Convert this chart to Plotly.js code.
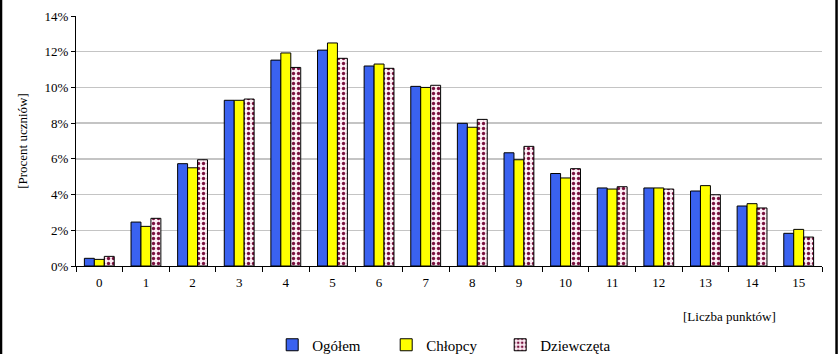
<!DOCTYPE html>
<html>
<head>
<meta charset="utf-8">
<script src="https://cdn.plot.ly/plotly-3.0.1.min.js"></script>
<style>html,body{margin:0;padding:0;background:#fff;}#chart{width:838px;height:354px;}</style>
</head>
<body>
<div id="chart"></div>
<script>
const categories = ["0","1","2","3","4","5","6","7","8","9","10","11","12","13","14","15"];
const ogolem     = [0.43, 2.46, 5.73, 9.28, 11.53, 12.09, 11.20, 10.06, 7.99, 6.34, 5.18, 4.37, 4.37, 4.20, 3.36, 1.83];
const chlopcy    = [0.37, 2.22, 5.50, 9.28, 11.93, 12.49, 11.31, 10.00, 7.77, 5.95, 4.93, 4.31, 4.37, 4.50, 3.49, 2.05];
const dziewczeta = [0.54, 2.67, 5.95, 9.35, 11.12, 11.63, 11.07, 10.12, 8.21, 6.70, 5.45, 4.44, 4.31, 3.99, 3.25, 1.62];
const yTickVals  = [0, 2, 4, 6, 8, 10, 12, 14];
const yTickText  = ["0%", "2%", "4%", "6%", "8%", "10%", "12%", "14%"];

const serif = "Liberation Serif";
const line = {color: "#000", width: 1};

const traces = [
  {type: "bar", name: "Ogółem", x: categories, y: ogolem,
   marker: {color: "#3a62f0", line: line}},
  {type: "bar", name: "Chłopcy", x: categories, y: chlopcy,
   marker: {color: "#ffff00", line: line}},
  {type: "bar", name: "Dziewczęta", x: categories, y: dziewczeta,
   marker: {color: "#ffffff", line: line,
            pattern: {shape: ".", fgcolor: "#7a1240", bgcolor: "#fdeef5", size: 5, solidity: 0.35}}}
];

const layout = {
  width: 838, height: 354,
  margin: {l: 76, r: 16, t: 16, b: 88, autoexpand: false},
  paper_bgcolor: "#fff", plot_bgcolor: "#fff",
  font: {family: serif, color: "#000", size: 13},
  barmode: "group", bargap: 0.36, bargroupgap: 0,
  showlegend: true,
  hovermode: false,
  xaxis: {
    type: "category", tickson: "boundaries",
    showline: true, linecolor: "#000", linewidth: 1,
    ticks: "outside", ticklen: 5, tickcolor: "#000",
    showgrid: false, zeroline: false,
    tickfont: {family: serif, size: 13}, ticklabelstandoff: 4
  },
  yaxis: {
    range: [0, 14], tickvals: yTickVals, ticktext: yTickText,
    showline: true, linecolor: "#000", linewidth: 1,
    ticks: "outside", ticklen: 4, tickcolor: "#000",
    showgrid: true, gridcolor: "#c4c4c4", gridwidth: 1.5, zeroline: false,
    tickfont: {family: serif, size: 13},
    title: {text: "[Procent uczniów]", font: {family: serif, size: 13}, standoff: 14}
  },
  legend: {
    orientation: "h", x: 0.263, xanchor: "left", y: -0.316, yanchor: "middle",
    font: {family: serif, size: 15, color: "#000"}, entrywidth: 69, entrywidthmode: "pixels",
    itemwidth: 30, traceorder: "normal", bgcolor: "rgba(0,0,0,0)"
  },
  annotations: [
    {xref: "paper", yref: "paper", x: 0.8755, y: -0.2, xanchor: "center", yanchor: "middle",
     text: "[Liczba punktów]", showarrow: false, font: {family: serif, size: 13}}
  ],
  shapes: [
    {type: "line", xref: "paper", yref: "paper", x0: -0.1005, x1: -0.1005, y0: -0.36, y1: 1.07,
     line: {color: "#000", width: 2.5}},
    {type: "line", xref: "paper", yref: "paper", x0: 1.0195, x1: 1.0195, y0: -0.36, y1: 1.07,
     line: {color: "#000", width: 2.5}}
  ]
};

Plotly.newPlot("chart", traces, layout, {displayModeBar: false, staticPlot: true});
</script>
</body>
</html>
